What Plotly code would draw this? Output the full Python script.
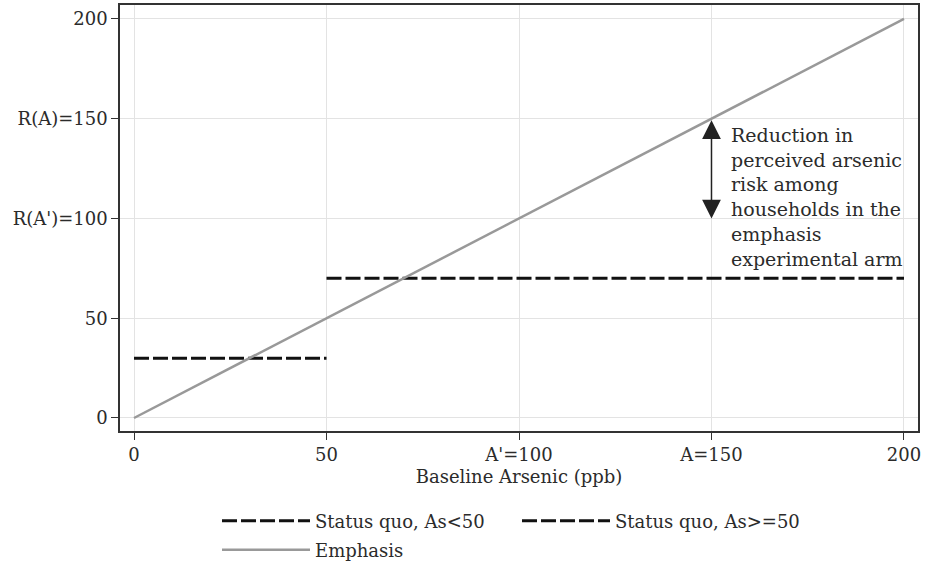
import plotly.graph_objects as go

# ---- data ----
sq_low_x = [0, 50]
sq_low_y = [30, 30]
sq_high_x = [50, 200]
sq_high_y = [70, 70]
emph_x = [0, 200]
emph_y = [0, 200]

x_tickvals = [0, 50, 100, 150, 200]
x_ticktext = ["0", "50", "A'=100", "A=150", "200"]
y_tickvals = [0, 50, 100, 150, 200]
y_ticktext = ["0", "50", "R(A')=100", "R(A)=150", "200"]

arrow_x = 150
arrow_top = 150
arrow_bottom = 100
note_lines = ["Reduction in", "perceived arsenic", "risk among",
              "households in the", "emphasis", "experimental arm"]

FONT = "DejaVu Serif"
TXT = "#2b2b2b"

fig = go.Figure()
fig.add_trace(go.Scatter(x=sq_low_x, y=sq_low_y, mode="lines",
                         name="Status quo, As<50",
                         line=dict(color="#111111", width=3, dash="15px,4px"),
                         legend="legend"))
fig.add_trace(go.Scatter(x=sq_high_x, y=sq_high_y, mode="lines",
                         name="Status quo, As>=50",
                         line=dict(color="#111111", width=3, dash="15px,4px"),
                         legend="legend"))
fig.add_trace(go.Scatter(x=emph_x, y=emph_y, mode="lines",
                         name="Emphasis",
                         line=dict(color="#999999", width=2.5),
                         legend="legend2"))

# double-headed arrow
fig.add_annotation(x=arrow_x, y=arrow_bottom, ax=arrow_x, ay=arrow_top,
                   xref="x", yref="y", axref="x", ayref="y",
                   showarrow=True, arrowhead=2, startarrowhead=2,
                   arrowside="end+start", arrowsize=2.5, startarrowsize=2.5,
                   arrowwidth=1.5, arrowcolor="#222222", text="")

fig.add_annotation(x=154.5, y=148.5, xref="x", yref="y",
                   xanchor="left", yanchor="top", align="left",
                   showarrow=False, text="<br>".join(note_lines),
                   font=dict(family=FONT, size=19, color=TXT))

fig.update_layout(
    width=930, height=568,
    margin=dict(l=120, r=12, t=5, b=137, autoexpand=False),
    paper_bgcolor="white", plot_bgcolor="white",
    font=dict(family=FONT, size=18, color=TXT),
    showlegend=True,
    legend=dict(orientation="h", x=(217 - 120) / 798, xanchor="left",
                y=-90 / 426, yanchor="middle", entrywidth=197,
                entrywidthmode="pixels",
                itemwidth=88, font=dict(family=FONT, size=18, color=TXT),
                bgcolor="rgba(0,0,0,0)"),
    legend2=dict(orientation="h", x=(217 - 120) / 798, xanchor="left",
                 y=-119 / 426, yanchor="middle",
                 itemwidth=88, font=dict(family=FONT, size=18, color=TXT),
                 bgcolor="rgba(0,0,0,0)"),
)
fig.update_xaxes(range=[-3.64, 203.64], tickvals=x_tickvals, ticktext=x_ticktext,
                 showgrid=True, gridcolor="#e3e3e3", gridwidth=1,
                 zeroline=False, showline=True, linecolor="#333333", linewidth=1.5,
                 mirror=True, ticks="outside", ticklen=7, tickcolor="#333333",
                 title=dict(text="Baseline Arsenic (ppb)", standoff=6,
                            font=dict(family=FONT, size=18, color=TXT)))
fig.update_yaxes(range=[-6.52, 207.0], tickvals=y_tickvals, ticktext=y_ticktext,
                 showgrid=True, gridcolor="#e3e3e3", gridwidth=1,
                 zeroline=False, showline=True, linecolor="#333333", linewidth=1.5,
                 mirror=True, ticks="outside", ticklen=7, tickcolor="#333333")

fig.write_html("out.html")
